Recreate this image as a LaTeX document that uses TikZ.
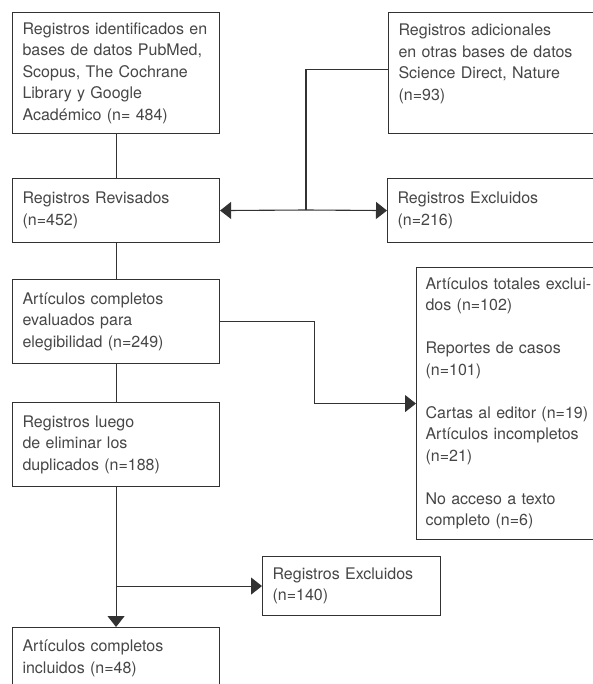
\documentclass[tikz,border=0pt]{standalone}
\usepackage{fontspec}
\setmainfont{TeX Gyre Heros}
\usetikzlibrary{arrows.meta}
\definecolor{linea}{RGB}{50,50,50}
\definecolor{texto}{RGB}{70,70,70}

\begin{document}
\begin{tikzpicture}[x=1pt, y=-1pt,
  caja/.style={draw=linea, line width=1.1pt, anchor=north west, inner xsep=10pt, inner ysep=4pt,
    align=left, text=texto, font=\fontsize{16}{21.5}\selectfont},
  linea/.style={draw=linea, line width=1.1pt},
  flecha/.style={linea, -{Triangle[length=11pt,width=17pt]}}]
\useasboundingbox (0,0) rectangle (592,684);
% Boxes of the flow
\node[caja, text width=187pt, minimum height=121pt] (reg) at (12,12) {Registros identificados en\\bases de datos PubMed,\\Scopus, The Cochrane\\Library y Google\\Académico (n= 484)};
\node[caja, text width=212pt, minimum height=121pt] (adi) at (388,12) {Registros adicionales\\en otras bases de datos\\Science Direct, Nature\\(n=93)\\\mbox{}};
\node[caja, text width=187pt, minimum height=64pt] (rev) at (12,178) {Registros Revisados\\(n=452)};
\node[caja, text width=213pt, minimum height=64pt] (exc) at (387,178) {Registros Excluidos\\(n=216)};
\node[caja, text width=187pt, minimum height=84pt] (eva) at (12,279) {Artículos completos\\evaluados para\\elegibilidad (n=249)};
\node[caja, text width=184pt, minimum height=272pt, inner xsep=9pt] (tot) at (416,267) {Artículos totales exclui-\\dos (n=102)\\[21.5pt]Reportes de casos\\(n=101)\\[21.5pt]Cartas al editor (n=19)\\Artículos incompletos\\(n=21)\\[21.5pt]No acceso a texto\\completo (n=6)};
\node[caja, text width=187pt, minimum height=84pt] (lue) at (12,402) {Registros luego\\de eliminar los\\duplicados (n=188)};
\node[caja, text width=158pt, minimum height=59pt] (exc2) at (262,556) {Registros Excluidos\\(n=140)};
\node[caja, text width=187pt, minimum height=62pt] (inc) at (12,627) {Artículos completos\\incluidos (n=48)};

% Connecting lines
\coordinate (j0) at (306,210);
\coordinate (j1) at (lue.south |- exc2.west);
\draw[linea] (reg) -- (rev);
\draw[linea] (rev) -- (eva);
\draw[linea] (eva) -- (lue);
\draw[linea] ([yshift=3.5pt]adi.west) -| (j0);
\draw[flecha] (j0) -- (rev.east);
\draw[flecha] (j0) -- (exc.west);
\draw[flecha] (eva.east) -- ++(94,0) |- (tot.west);
\draw[flecha] (lue) -- (inc);
\draw[flecha] (j1) -- (exc2.west);
\end{tikzpicture}
\end{document}
